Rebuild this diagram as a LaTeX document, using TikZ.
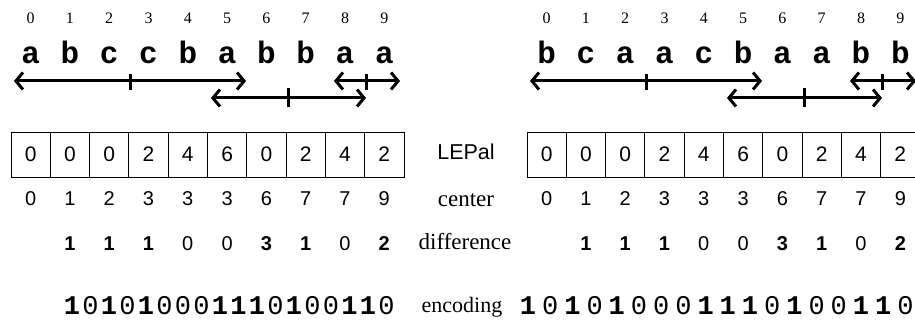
\documentclass[tikz,border=0pt]{standalone}
\usepackage{fontspec}
\setmainfont{Liberation Serif}
\newfontfamily\sansf{Liberation Sans}
\newfontfamily\monof{Liberation Mono}
\usetikzlibrary{arrows.meta}
\begin{document}
\begin{tikzpicture}[x=1pt,y=-1pt,
 idx/.style={font=\fontsize{16}{16}\selectfont, inner sep=0, anchor=base},
 letter/.style={font=\monof\bfseries\fontsize{31}{31}\selectfont, inner sep=0, anchor=base},
 cell/.style={draw, line width=0.9pt, minimum width=39.3pt, minimum height=45pt, inner sep=0, font=\sansf\fontsize{21}{21}\selectfont},
 ctr/.style={font=\sansf\fontsize{20}{20}\selectfont, inner sep=0, anchor=base},
 dnum/.style={font=\sansf\fontsize{20}{20}\selectfont, inner sep=0, anchor=base},
 lbl/.style={font=\fontsize{23}{23}\selectfont, inner sep=0, anchor=base},
 lbls/.style={font=\sansf\fontsize{21.5}{21.5}\selectfont, inner sep=0, anchor=base},
 enc/.style={font=\monof\fontsize{27}{27}\selectfont, inner sep=0, anchor=base},
 span/.style={line width=3pt, {Straight Barb[length=7pt,width=17pt]}-{Straight Barb[length=7pt,width=17pt]}},
 tick/.style={line width=3pt}
]
\useasboundingbox (0,0) rectangle (915,320);
\clip (0,0) rectangle (915,320);

% ---------- index digits ----------
\foreach \ox/\p in {0/L,516/R}
  \foreach \i in {0,...,9}
    \node[idx] (idx\p\i) at ({30.6+\ox+39.3*\i},24) {\i};

% ---------- letters ----------
\foreach \i/\c in {0/a,1/b,2/c,3/c,4/b,5/a,6/b,7/b,8/a,9/a}
  \node[letter] (chL\i) at ({30.6+39.3*\i},64) {\c};
\foreach \i/\c in {0/b,1/c,2/a,3/a,4/c,5/b,6/a,7/a,8/b,9/b}
  \node[letter] (chR\i) at ({546.6+39.3*\i},64) {\c};

% ---------- palindrome arrows ----------
\foreach \ox/\p in {0/L,516/R}{
  \coordinate (s1\p) at (14+\ox,81);  \coordinate (e1\p) at (246+\ox,81);
  \coordinate (ta1\p) at (130+\ox,74); \coordinate (tb1\p) at (130+\ox,90);
  \coordinate (s3\p) at (334+\ox,81); \coordinate (e3\p) at (400+\ox,81);
  \coordinate (ta3\p) at (366+\ox,74); \coordinate (tb3\p) at (366+\ox,90);
  \coordinate (s2\p) at (211+\ox,98); \coordinate (e2\p) at (366+\ox,98);
  \coordinate (ta2\p) at (288+\ox,88); \coordinate (tb2\p) at (288+\ox,107);
  \draw[span] (s1\p) -- (e1\p);
  \draw[tick] (ta1\p) -- (tb1\p);
  \draw[span] (s3\p) -- (e3\p);
  \draw[tick] (ta3\p) -- (tb3\p);
  \draw[span] (s2\p) -- (e2\p);
  \draw[tick] (ta2\p) -- (tb2\p);
}

% ---------- LEPal cells, centers, differences ----------
\foreach \ox/\p in {0/L,516/R}{
  \foreach \i/\v in {0/0,1/0,2/0,3/2,4/4,5/6,6/0,7/2,8/4,9/2}
    \node[cell] (cell\p\i) at ({30.6+\ox+39.3*\i},154.5) {\v};
  \foreach \i/\v in {0/0,1/1,2/2,3/3,4/3,5/3,6/6,7/7,8/7,9/9}
    \node[ctr] (ctr\p\i) at ({30.6+\ox+39.3*\i},206) {\v};
  \foreach \i/\v in {1/1,2/1,3/1,4/0,5/0,6/3,7/1,8/0,9/2}
    \node[dnum] (dif\p\i) at ({30.6+\ox+39.3*\i},251) {\ifnum\v>0 \bfseries\fi\v};
}

% ---------- encodings ----------
\foreach \b [count=\k from 0] in {1,0,1,0,1,0,0,0,1,1,1,0,1,0,0,1,1,0}{
  \node[enc] (encL\k) at ({72+18.5*\k},314) {\ifnum\b=1 \bfseries\fi\b};
  \node[enc] (encR\k) at ({528+22.2*\k},314) {\ifnum\b=1 \bfseries\fi\b};
}

% ---------- row labels ----------
\node[lbls] (lLEPal) at (466,160) {LEPal};
\node[lbl] (lcenter) at (466,207) {center};
\node[lbl] (ldiff) at (465,250) {difference};
\node[lbl, font=\fontsize{22}{22}\selectfont] (lenc) at (462,312) {encoding};
\end{tikzpicture}
\end{document}
